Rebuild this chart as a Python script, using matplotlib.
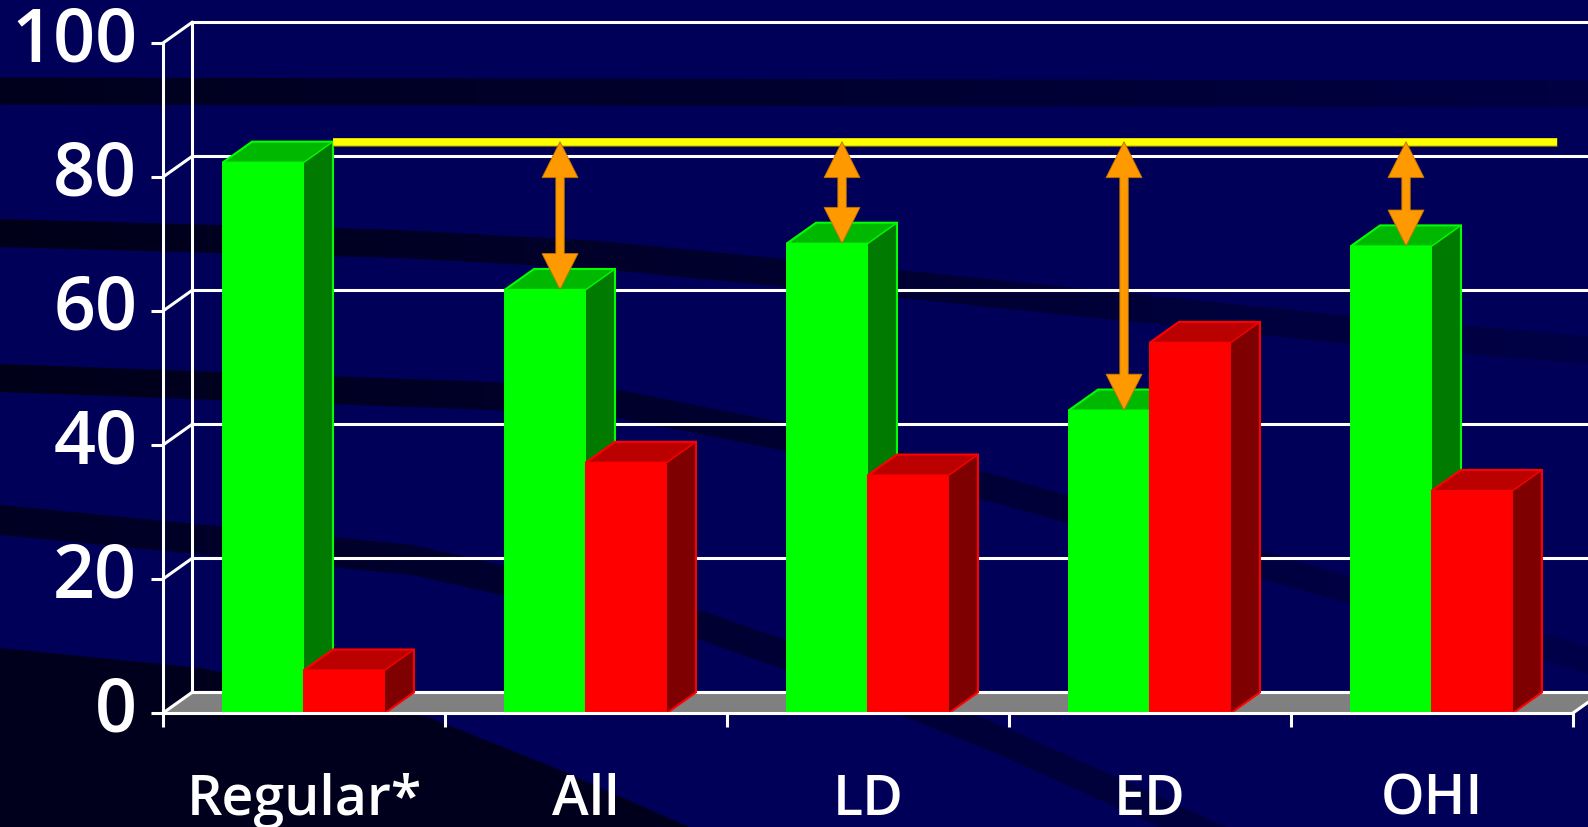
import numpy as np
import matplotlib.pyplot as plt
import matplotlib.patheffects as pe
from matplotlib.patches import Polygon, Rectangle

# values
categories = ['Regular*', 'All', 'LD', 'ED', 'OHI']
green_vals = [82.2, 63.2, 70.1, 45.2, 69.7]
red_vals = [6.4, 37.4, 35.5, 55.3, 33.2]
y_ticks = [0, 20, 40, 60, 80, 100]

plt.rcParams['font.family'] = ['Open Sans', 'DejaVu Sans']

W, H = 1588, 827
fig = plt.figure(figsize=(W / 100, H / 100), dpi=100)

# ---- slide background: navy with dark curved bands ----
base = np.array([0, 0, 88]) / 255
dark = np.array([0, 0, 18]) / 255
X = np.arange(W)[None, :] + 0.5
Y = np.arange(H)[:, None] + 0.5
shade = np.zeros((H, W))

bands = [
    ([0, 1588], [91, 94], 13.5, (0.85, 0.3)),
    ([0, 400, 600, 940, 1350, 1588], [233, 244, 255, 288, 330, 350], 14, (0.9, 0.25)),
    ([0, 600, 800, 1000, 1350, 1588], [378, 400, 440, 490, 590, 660], 14, (0.9, 0.2)),
    ([0, 413, 700, 800, 1000, 1200, 1400], [520, 560, 625, 660, 740, 830, 920], 15, (0.75, 0.25)),
]
for xs, ys, half, (a0, a1) in bands:
    yc = np.interp(X, xs, ys)
    edge = np.clip(half - np.abs(Y - yc) + 0.5, 0, 1)
    shade = np.maximum(shade, edge * np.interp(X, [0, W], [a0, a1]))

yc = np.interp(X, [0, 200, 428, 560, 689, 800], [648, 668, 717, 770, 827, 900])
shade = np.maximum(shade, np.clip(Y - yc + 0.5, 0, 1) * 0.85)

img = base[None, None, :] * (1 - shade[..., None]) + dark[None, None, :] * shade[..., None]
bg = fig.add_axes([0, 0, 1, 1], zorder=0)
bg.imshow(img, extent=[0, W, H, 0], aspect='auto', interpolation='bilinear')
bg.axis('off')

# ---- chart axes (front plane) ----
x0, x1, y0, y1 = 163, 1573, 713, 43
ax = fig.add_axes([x0 / W, (H - y0) / H, (x1 - x0) / W, (y0 - y1) / H], zorder=1)
ax.set_xlim(0, 5)
ax.set_ylim(0, 100)
ax.patch.set_visible(False)

px_x = (x1 - x0) / 5
px_y = (y0 - y1) / 100
DX = 29 / px_x
DY = 20.6 / px_y

lw = 2.2
# back wall grid + diagonals
for v in y_ticks:
    ax.plot([DX, 5 + DX + 0.3], [v + DY, v + DY], color='white', lw=lw, clip_on=False, zorder=2)
    ax.plot([0, DX], [v, v + DY], color='white', lw=lw, clip_on=False, zorder=2)
ax.plot([DX, DX], [DY, 100 + DY], color='white', lw=lw, clip_on=False, zorder=2)

# floor
ax.add_patch(Polygon([(0, 0), (5, 0), (5 + DX, DY), (DX, DY)], closed=True,
                     fc='#808080', ec='none', zorder=1.8, clip_on=False))
ax.plot([DX, 5 + DX + 0.3], [DY, DY], color='white', lw=lw, clip_on=False, zorder=2)
ax.plot([5, 5 + DX], [0, DY], color='white', lw=lw, clip_on=False, zorder=2)


def bar3d(left, width, val, front, top, side):
    ax.add_patch(Rectangle((left, 0), width, val, fc=front, ec='none', zorder=3))
    ax.add_patch(Polygon([(left, val), (left + width, val), (left + width + DX, val + DY),
                          (left + DX, val + DY)], closed=True, fc=top, ec='none', zorder=3))
    ax.add_patch(Polygon([(left + width, 0), (left + width + DX, DY), (left + width + DX, val + DY),
                          (left + width, val)], closed=True, fc=side, ec='none', zorder=3))
    ax.plot([left, left, left + DX, left + width + DX, left + width + DX, left + width],
            [0, val, val + DY, val + DY, DY, 0], color=front, lw=1.5, zorder=3,
            solid_joinstyle='miter')
    ax.plot([left, left + width, left + width + DX], [val, val, val + DY],
            color=front, lw=1.0, zorder=3)


bw = 0.287
g_off = 0.213
for i in range(len(categories)):
    bar3d(i + g_off, bw, green_vals[i], '#00FF00', '#00B800', '#007A00')
    bar3d(i + g_off + bw, bw, red_vals[i], '#FF0000', '#BB0000', '#7F0000')

# reference line at the "Regular" level
ref = green_vals[0] + DY
ax.plot([g_off + bw + DX, 4.945], [ref, ref], color='#FFFF00', lw=5.4,
        solid_capstyle='butt', clip_on=False, zorder=6,
        path_effects=[pe.Stroke(linewidth=6.4, foreground='#7a6a00'), pe.Normal()])

# double-headed gap arrows
hw = 18 / px_x
sw = 4.2 / px_x
hl = 36 / px_y
for i in range(1, len(categories)):
    x = i + g_off + bw / 2 + DX / 2
    top, bot = ref, green_vals[i]
    pts = [(x, top), (x + hw, top - hl), (x + sw, top - hl), (x + sw, bot + hl),
           (x + hw, bot + hl), (x, bot), (x - hw, bot + hl), (x - sw, bot + hl),
           (x - sw, top - hl), (x - hw, top - hl)]
    ax.add_patch(Polygon(pts, closed=True, fc='#FF9900', ec='#C07000', lw=0.6,
                         zorder=7, clip_on=False))

# axes / ticks
for s in ['top', 'right']:
    ax.spines[s].set_visible(False)
for s in ['left', 'bottom']:
    ax.spines[s].set_color('white')
    ax.spines[s].set_linewidth(lw)
    ax.spines[s].set_zorder(4)

ax.set_yticks(y_ticks)
ax.set_yticklabels([str(v) for v in y_ticks], fontsize=53, color='white', fontweight='semibold')
ax.tick_params(axis='y', direction='out', length=8.6, width=lw, color='white', pad=10)
for t in ax.get_yticklabels():
    t.set_va('center')

ax.set_xticks(range(6))
ax.set_xticklabels([])
ax.tick_params(axis='x', which='major', direction='out', length=10, width=lw, color='white')
ax.set_xticks(np.arange(5) + 0.5, minor=True)
ax.set_xticklabels(categories, minor=True, fontsize=40, color='white', fontweight='semibold')
ax.tick_params(axis='x', which='minor', length=0, pad=43)

fig.savefig('out.png', dpi=100)
